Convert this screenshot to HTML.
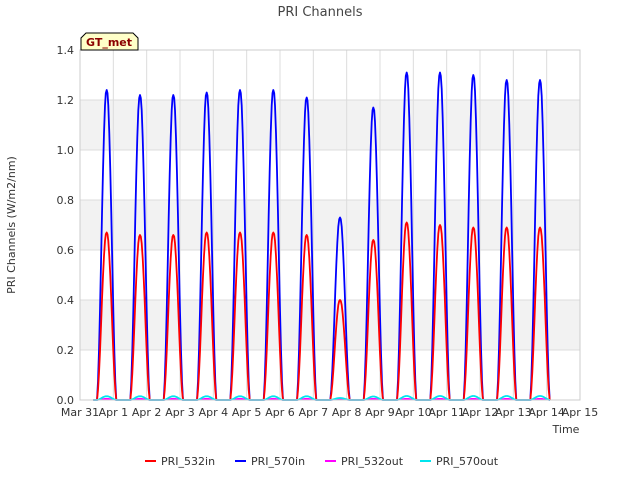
<!DOCTYPE html>
<html><head><meta charset="utf-8"><style>
body{margin:0;background:#fff;font-family:"Liberation Sans","DejaVu Sans",sans-serif}
svg text{font-family:"DejaVu Sans","Liberation Sans",sans-serif}
</style></head><body>
<svg id="c" width="640" height="480" viewBox="0 0 640 480">
<text x="320" y="16" text-anchor="middle" font-size="13" fill="#444">PRI Channels</text>
<g id="bands"></g><g id="grid"></g><g id="series"></g><g id="axes"></g>
<text x="15" y="225" transform="rotate(-90 15 225)" text-anchor="middle" font-size="11" fill="#333">PRI Channels (W/m2/nm)</text>
<text x="566" y="433" text-anchor="middle" font-size="11" fill="#333">Time</text>
<g>
<path d="M81,50 L81,38 L86,33 L133,33 L138,38 L138,50 Z" fill="#ffffc8" stroke="#000" stroke-width="1"/>
<text x="109" y="46" text-anchor="middle" font-size="11" font-weight="bold" fill="#8b0000">GT_met</text>
</g>
<g id="legend"></g>
</svg>
<script>
const xTicks=["Mar 31","Apr 1","Apr 2","Apr 3","Apr 4","Apr 5","Apr 6","Apr 7","Apr 8","Apr 9","Apr 10","Apr 11","Apr 12","Apr 13","Apr 14","Apr 15"];
const yTicks=[0,0.2,0.4,0.6,0.8,1.0,1.2,1.4];
const peakDays=[0.8,1.8,2.8,3.8,4.8,5.8,6.8,7.8,8.8,9.8,10.8,11.8,12.8,13.8];
const in570=[1.24,1.22,1.22,1.23,1.24,1.24,1.21,0.73,1.17,1.31,1.31,1.30,1.28,1.28];
const in532=[0.67,0.66,0.66,0.67,0.67,0.67,0.66,0.40,0.64,0.71,0.70,0.69,0.69,0.69];
const out532=[0.005,0.005,0.005,0.005,0.005,0.005,0.005,0.003,0.005,0.005,0.005,0.005,0.005,0.005];
const out570=[0.015,0.015,0.015,0.015,0.015,0.015,0.015,0.008,0.014,0.016,0.016,0.016,0.016,0.016];
const profileT=[-0.29,-0.26,-0.23,-0.2,-0.17,-0.14,-0.11,-0.08,-0.05,-0.025,0,0.025,0.05,0.08,0.11,0.14,0.17,0.2,0.23,0.26,0.29];
const profileV=[0,0.06,0.16,0.29,0.44,0.6,0.74,0.86,0.95,0.99,1,0.99,0.95,0.86,0.74,0.6,0.44,0.29,0.16,0.06,0];
const X0=80,X1=580,Y0=400,Y1=50;
const xs=d=>X0+(X1-X0)*d/15, ys=v=>Y0-(Y0-Y1)*v/1.4;
const NS="http://www.w3.org/2000/svg";
function mk(t,a,p){const e=document.createElementNS(NS,t);for(const k in a)e.setAttribute(k,a[k]);p.appendChild(e);return e;}
const bands=document.getElementById('bands'),grid=document.getElementById('grid'),axes=document.getElementById('axes'),ser=document.getElementById('series'),leg=document.getElementById('legend');
mk('rect',{x:X0,y:Y1,width:X1-X0,height:Y0-Y1,fill:'#fff'},bands);
for(let i=1;i<yTicks.length-1;i+=2){const r=mk('rect',{x:X0,y:ys(yTicks[i+1]),width:X1-X0,height:ys(yTicks[i])-ys(yTicks[i+1]),fill:'#f2f2f2'},bands);

}
yTicks.forEach(v=>{const l=mk('line',{x1:X0,x2:X1,y1:ys(v),y2:ys(v),stroke:'#dcdcdc'},grid);


const t=mk('text',{x:X0-6,y:ys(v)+4,'text-anchor':'end','font-size':11,fill:'#333'},axes);t.textContent=v.toFixed(1);

});
xTicks.forEach((s,i)=>{const l=mk('line',{x1:xs(i),x2:xs(i),y1:Y1,y2:Y0,stroke:'#dcdcdc'},grid);


const t=mk('text',{x:xs(i),y:Y0+16,'text-anchor':'middle','font-size':11,fill:'#333'},axes);t.textContent=s;

});
const fr=mk('rect',{x:X0,y:Y1,width:X1-X0,height:Y0-Y1,fill:'none',stroke:'#ccc'},axes);


function draw(vals,color,name,w){let d='M'+xs(0.4)+','+ys(0);
peakDays.forEach((p,i)=>{profileT.forEach((t,j)=>{d+=' L'+xs(p+t).toFixed(1)+','+ys(vals[i]*profileV[j]).toFixed(1);});});
d+=' L'+xs(14.1)+','+ys(0);
const e=mk('path',{d:d,fill:'none',stroke:color,'stroke-width':w,'stroke-linejoin':'round'},ser);

}
draw(in570,'#0000ff','series-pri-570in',1.8);
draw(in532,'#ff0000','series-pri-532in',1.8);
draw(out532,'#ff00ff','series-pri-532out',1.5);
draw(out570,'#00e5ee','series-pri-570out',1.8);
[["PRI_532in","#ff0000",145],["PRI_570in","#0000ff",235],["PRI_532out","#ff00ff",325],["PRI_570out","#00e5ee",420]].forEach(([n,c,x])=>{
const g=mk('g',{},leg);


mk('line',{x1:x,x2:x+11,y1:461,y2:461,stroke:c,'stroke-width':2},g);
const t=mk('text',{x:x+16,y:465,'font-size':11,fill:'#333'},g);t.textContent=n;});
</script>
</body></html>
